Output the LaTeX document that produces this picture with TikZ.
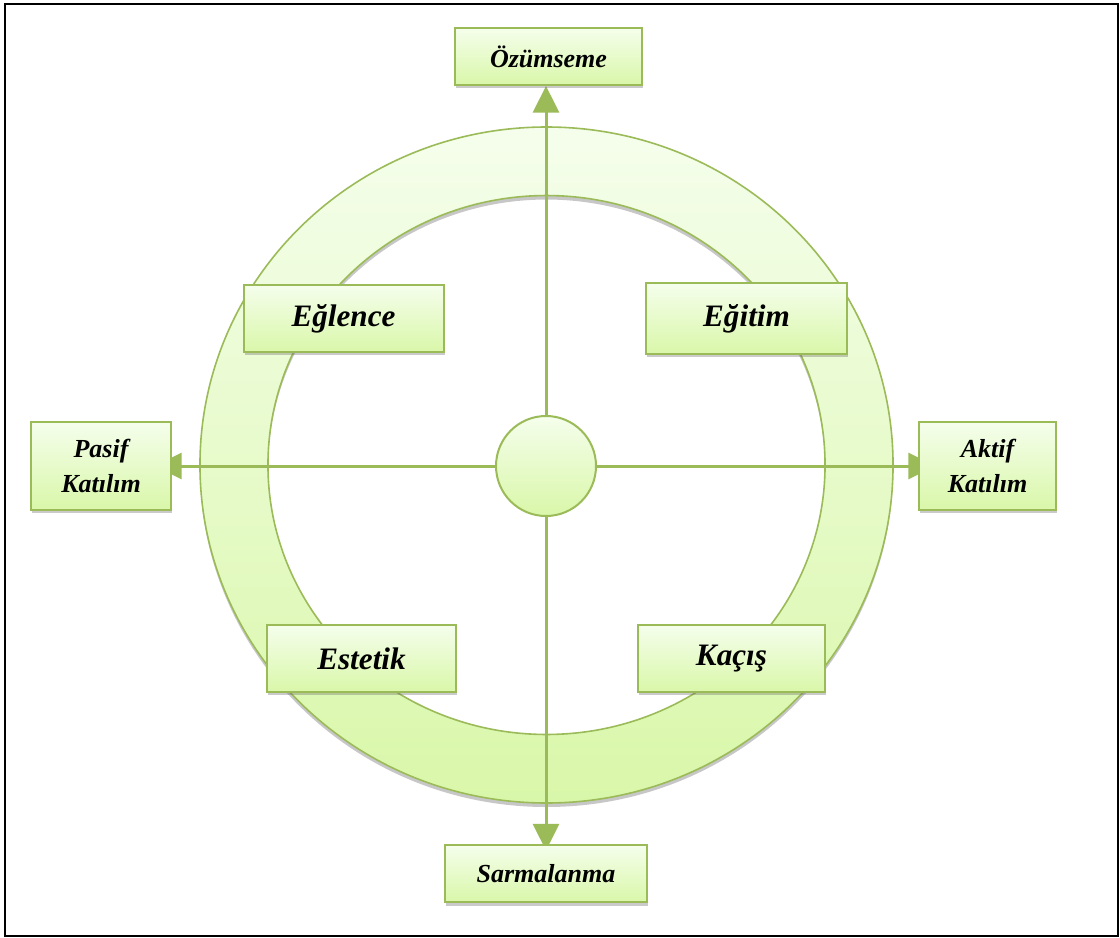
\documentclass[tikz,border=0pt]{standalone}
\usepackage{fontspec}
\setmainfont{Liberation Serif}
\usetikzlibrary{arrows.meta,shadows}
\definecolor{rim}{HTML}{9BBB59}
\definecolor{paletop}{HTML}{F5FEEC}
\definecolor{palebot}{HTML}{D9F7A9}
\pgfdeclarelayer{ring}
\pgfdeclarelayer{axes}
\pgfsetlayers{ring,axes,main}
\tikzset{>={Triangle[width=19.5pt,length=20pt]}}
\tikzset{
  box/.style={draw=rim, line width=1.5pt, top color=paletop, bottom color=palebot,
    drop shadow={shadow xshift=1pt, shadow yshift=-2.5pt, opacity=.35, fill=black!60},
    font=\fontsize{19.5}{26}\selectfont\bfseries\itshape, align=center, inner sep=0pt},
  bigbox/.style={box, font=\fontsize{23.4}{28}\selectfont\bfseries\itshape},
  hub/.style={circle, draw=rim, line width=1.5pt, top color=paletop, bottom color=palebot,
    minimum size=75pt, inner sep=0pt},
  axis/.style={draw=rim, line width=2.25pt, ->},
}
\begin{document}
\begin{tikzpicture}[x=0.75pt,y=-0.75pt]
  \useasboundingbox (0,0) rectangle (1120,938);
  \draw[line width=1.5pt] (5,4) rectangle (1118,936);
  \coordinate (ctr) at (546.5,465);
  \node[hub] (hub) at (546,466) {};
  \node[box, minimum width=140.25pt, minimum height=42.75pt] (ozum) at (548.5,56.5) {Özümseme};
  \node[box, minimum width=151.5pt, minimum height=43pt] (sarm) at (546,873.5) {Sarmalanma};
  \node[box, minimum width=105pt, minimum height=66pt] (pasif) at (101,466) {Pasif\\Katılım};
  \node[box, minimum width=102.75pt, minimum height=66pt] (aktif) at (987.5,466) {Aktif\\Katılım};
  \node[bigbox, minimum width=150pt, minimum height=50.25pt] (eglence) at (343.5,318.5) {Eğlence};
  \node[bigbox, minimum width=150.75pt, minimum height=53.25pt] (egitim) at (746.5,318.5) {Eğitim};
  \node[bigbox, minimum width=141.75pt, minimum height=50.25pt] (estetik) at (361.5,658.5) {Estetik};
  \node[bigbox, minimum width=140.25pt, minimum height=50.25pt] (kacis) at (731.5,658.5) {Kaçış};
  \begin{pgfonlayer}{axes}
    \draw[axis] (hub.center) -- (hub |- ozum.south);
    \draw[axis, shorten >=-5pt] (hub.center) -- (hub |- sarm.north);
    \draw[axis, shorten >=-12.75pt] (hub.center) -- (hub -| pasif.east);
    \draw[axis, shorten >=-12.75pt] (hub.center) -- (hub -| aktif.west);
  \end{pgfonlayer}
  \begin{pgfonlayer}{ring}
    \fill[black, opacity=.22, even odd rule]
      ([yshift=-3pt]ctr) ellipse [x radius=259.9pt, y radius=253.5pt]
      ([yshift=-3pt]ctr) ellipse [x radius=208.9pt, y radius=202.1pt];
    \path[draw=rim, line width=1.2pt, top color=paletop, bottom color=palebot, even odd rule]
      (ctr) ellipse [x radius=259.9pt, y radius=253.5pt]
      (ctr) ellipse [x radius=208.9pt, y radius=202.1pt];
  \end{pgfonlayer}
\end{tikzpicture}
\end{document}
